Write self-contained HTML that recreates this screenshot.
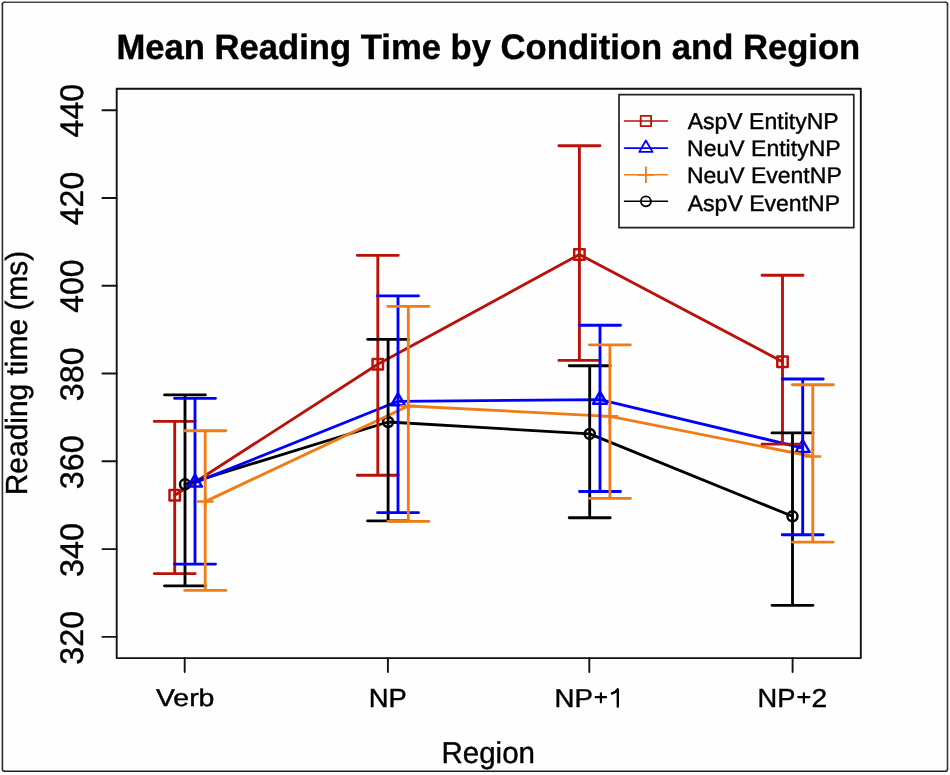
<!DOCTYPE html>
<html><head><meta charset="utf-8"><title>Mean Reading Time by Condition and Region</title>
<style>
html,body{margin:0;padding:0;background:#fff;}
body{width:950px;height:775px;overflow:hidden;}
svg{display:block;font-family:"Liberation Sans",sans-serif;will-change:transform;text-rendering:geometricPrecision;}
</style></head><body>
<svg width="950" height="775" viewBox="0 0 950 775">
<style>text{stroke:#000;stroke-width:0.4px;}</style>
<rect x="0" y="0" width="950" height="775" fill="#fefefe"/>
<g fill="none" stroke-width="1.6" stroke-linecap="round">
<path d="M4.4 2.3H945.4" stroke="#484848"/>
<path d="M2.4 4.3V769.2" stroke="#2e2e2e"/>
<path d="M947.5 4.3V769.2" stroke="#363636"/>
<path d="M4.4 771.2H945.5" stroke="#1e1e1e"/>
<path d="M2.4 4.3Q2.4 2.3 4.4 2.3M945.4 2.3Q947.5 2.3 947.5 4.3M947.5 769.2Q947.5 771.2 945.5 771.2M4.4 771.2Q2.4 771.2 2.4 769.2" stroke="#333"/>
</g>
<text x="488.37" y="59.40" text-anchor="middle" font-size="35.37" font-weight="bold" textLength="743.79" lengthAdjust="spacingAndGlyphs">Mean Reading Time by Condition and Region</text>
<path d="M174.7 495.2 L377.8 364.3 L579.4 254.5 L782.5 361.7" stroke="#b91209" stroke-width="2.85" stroke-linecap="round" stroke-linejoin="round" fill="none"/>
<rect x="169.5" y="490.0" width="10.4" height="10.4" fill="none" stroke="#b91209" stroke-width="2.5" stroke-linejoin="round"/>
<rect x="372.6" y="359.1" width="10.4" height="10.4" fill="none" stroke="#b91209" stroke-width="2.5" stroke-linejoin="round"/>
<rect x="574.2" y="249.3" width="10.4" height="10.4" fill="none" stroke="#b91209" stroke-width="2.5" stroke-linejoin="round"/>
<rect x="777.3" y="356.5" width="10.4" height="10.4" fill="none" stroke="#b91209" stroke-width="2.5" stroke-linejoin="round"/>
<path d="M185.0 484.3 L388.1 422.0 L589.7 433.9 L792.5 516.3" stroke="#000000" stroke-width="2.85" stroke-linecap="round" stroke-linejoin="round" fill="none"/>
<circle cx="185.0" cy="484.3" r="5.0" fill="none" stroke="#000000" stroke-width="2.5"/>
<circle cx="388.1" cy="422.0" r="5.0" fill="none" stroke="#000000" stroke-width="2.5"/>
<circle cx="589.7" cy="433.9" r="5.0" fill="none" stroke="#000000" stroke-width="2.5"/>
<circle cx="792.5" cy="516.3" r="5.0" fill="none" stroke="#000000" stroke-width="2.5"/>
<path d="M195.0 482.6 L398.0 401.3 L600.0 399.7 L802.7 448.0" stroke="#0000ff" stroke-width="2.85" stroke-linecap="round" stroke-linejoin="round" fill="none"/>
<polygon points="195.0,474.6 201.9,486.6 188.1,486.6" fill="none" stroke="#0000ff" stroke-width="2.5" stroke-linejoin="round"/>
<polygon points="398.0,393.3 404.9,405.3 391.1,405.3" fill="none" stroke="#0000ff" stroke-width="2.5" stroke-linejoin="round"/>
<polygon points="600.0,391.7 606.9,403.7 593.1,403.7" fill="none" stroke="#0000ff" stroke-width="2.5" stroke-linejoin="round"/>
<polygon points="802.7,440.0 809.6,452.0 795.8,452.0" fill="none" stroke="#0000ff" stroke-width="2.5" stroke-linejoin="round"/>
<path d="M205.2 501.6 L408.3 406.0 L609.9 416.3 L812.8 456.5" stroke="#ef7c16" stroke-width="2.85" stroke-linecap="round" stroke-linejoin="round" fill="none"/>
<path d="M196.9 501.6H213.5M205.2 493.3V509.9" stroke="#ef7c16" stroke-width="2.5" fill="none"/>
<path d="M400.0 406.0H416.6M408.3 397.7V414.3" stroke="#ef7c16" stroke-width="2.5" fill="none"/>
<path d="M601.6 416.3H618.2M609.9 408.0V424.6" stroke="#ef7c16" stroke-width="2.5" fill="none"/>
<path d="M804.5 456.5H821.1M812.8 448.2V464.8" stroke="#ef7c16" stroke-width="2.5" fill="none"/>
<path d="M174.7 421.4V573.6M154.2 421.4H195.2M154.2 573.6H195.2M377.8 255.3V475.2M357.3 255.3H398.3M357.3 475.2H398.3M579.4 145.7V360.4M558.9 145.7H599.9M558.9 360.4H599.9M782.5 275.2V444.1M762.0 275.2H803.0M762.0 444.1H803.0" stroke="#b91209" stroke-width="2.85" stroke-linecap="round" fill="none"/>
<path d="M185.0 394.8V585.8M164.5 394.8H205.5M164.5 585.8H205.5M388.1 339.4V520.9M367.6 339.4H408.6M367.6 520.9H408.6M589.7 365.7V517.7M569.2 365.7H610.2M569.2 517.7H610.2M792.5 432.9V605.3M772.0 432.9H813.0M772.0 605.3H813.0" stroke="#000000" stroke-width="2.85" stroke-linecap="round" fill="none"/>
<path d="M195.0 398.3V564.1M174.5 398.3H215.5M174.5 564.1H215.5M398.0 295.9V512.6M377.5 295.9H418.5M377.5 512.6H418.5M600.0 325.2V491.5M579.5 325.2H620.5M579.5 491.5H620.5M802.7 379.0V534.7M782.2 379.0H823.2M782.2 534.7H823.2" stroke="#0000ff" stroke-width="2.85" stroke-linecap="round" fill="none"/>
<path d="M205.2 430.7V590.4M184.7 430.7H225.7M184.7 590.4H225.7M408.3 306.4V521.4M387.8 306.4H428.8M387.8 521.4H428.8M609.9 344.8V498.4M589.4 344.8H630.4M589.4 498.4H630.4M812.8 384.7V542.1M792.3 384.7H833.3M792.3 542.1H833.3" stroke="#ef7c16" stroke-width="2.85" stroke-linecap="round" fill="none"/>
<rect x="116.7" y="88.8" width="744.1" height="569.3" fill="none" stroke="#111" stroke-width="1.9" stroke-linejoin="round"/>
<path d="M102.4 110.2H116.7" stroke="#111" stroke-width="1.9" stroke-linecap="round"/>
<text transform="translate(83.01 110.67) rotate(-90)" text-anchor="middle" font-size="32.67" textLength="53.62" lengthAdjust="spacingAndGlyphs">440</text>
<path d="M102.4 198.0H116.7" stroke="#111" stroke-width="1.9" stroke-linecap="round"/>
<text transform="translate(83.06 198.50) rotate(-90)" text-anchor="middle" font-size="32.67" textLength="53.38" lengthAdjust="spacingAndGlyphs">420</text>
<path d="M102.4 285.8H116.7" stroke="#111" stroke-width="1.9" stroke-linecap="round"/>
<text transform="translate(83.00 286.19) rotate(-90)" text-anchor="middle" font-size="32.67" textLength="53.26" lengthAdjust="spacingAndGlyphs">400</text>
<path d="M102.4 373.5H116.7" stroke="#111" stroke-width="1.9" stroke-linecap="round"/>
<text transform="translate(83.01 374.30) rotate(-90)" text-anchor="middle" font-size="32.64" textLength="53.81" lengthAdjust="spacingAndGlyphs">380</text>
<path d="M102.4 461.3H116.7" stroke="#111" stroke-width="1.9" stroke-linecap="round"/>
<text transform="translate(83.04 462.20) rotate(-90)" text-anchor="middle" font-size="32.64" textLength="54.12" lengthAdjust="spacingAndGlyphs">360</text>
<path d="M102.4 549.1H116.7" stroke="#111" stroke-width="1.9" stroke-linecap="round"/>
<text transform="translate(82.98 549.94) rotate(-90)" text-anchor="middle" font-size="32.63" textLength="53.95" lengthAdjust="spacingAndGlyphs">340</text>
<path d="M102.4 636.9H116.7" stroke="#111" stroke-width="1.9" stroke-linecap="round"/>
<text transform="translate(83.10 637.80) rotate(-90)" text-anchor="middle" font-size="32.67" textLength="53.69" lengthAdjust="spacingAndGlyphs">320</text>
<path d="M184.7 658.1V672" stroke="#111" stroke-width="1.9" stroke-linecap="round"/>
<text x="185.18" y="706.25" text-anchor="middle" font-size="24.33" textLength="58.43" lengthAdjust="spacingAndGlyphs">Verb</text>
<path d="M387.9 658.1V672" stroke="#111" stroke-width="1.9" stroke-linecap="round"/>
<text x="387.68" y="706.68" text-anchor="middle" font-size="26.13" textLength="38.03" lengthAdjust="spacingAndGlyphs">NP</text>
<path d="M589.3 658.1V672" stroke="#111" stroke-width="1.9" stroke-linecap="round"/>
<text x="573.69" y="706.77" text-anchor="middle" font-size="25.98" textLength="38.39" lengthAdjust="spacingAndGlyphs">NP</text>
<path d="M792.6 658.1V672" stroke="#111" stroke-width="1.9" stroke-linecap="round"/>
<text x="776.43" y="706.68" text-anchor="middle" font-size="26.09" textLength="37.90" lengthAdjust="spacingAndGlyphs">NP</text>
<path d="M617.8 689.3V706.6M617.6 689.3Q615.6 692.5 611.9 693.5" stroke="#000" stroke-width="2.35" stroke-linecap="round" fill="none"/>
<path d="M595.7 697.2H606.1M600.9 693.3V702.3M798.3 697.1H809.5M803.9 693.3V702.5" stroke="#000" stroke-width="2.2" stroke-linecap="round" fill="none"/>
<text x="811.52" y="706.78" text-anchor="start" font-size="25.89" textLength="15.67" lengthAdjust="spacingAndGlyphs">2</text>
<rect x="619.0" y="94.7" width="234.8" height="133.0" fill="none" stroke="#222" stroke-width="1.7" stroke-linejoin="round"/>
<path d="M624.5 121.0H667.5" stroke="#b91209" stroke-width="1.55" stroke-linecap="round"/>
<rect x="640.7" y="115.8" width="10.4" height="10.4" fill="none" stroke="#b91209" stroke-width="1.8" stroke-linejoin="round"/>
<text x="687.70" y="128.95" text-anchor="start" font-size="22.8" textLength="151.03" lengthAdjust="spacingAndGlyphs">AspV EntityNP</text>
<path d="M624.5 148.1H667.5" stroke="#0000ff" stroke-width="1.55" stroke-linecap="round"/>
<polygon points="645.9,140.5 652.5,151.9 639.3,151.9" fill="none" stroke="#0000ff" stroke-width="1.8" stroke-linejoin="round"/>
<text x="687.09" y="156.36" text-anchor="start" font-size="22.7" textLength="153.56" lengthAdjust="spacingAndGlyphs">NeuV EntityNP</text>
<path d="M624.5 174.8H667.5" stroke="#ef7c16" stroke-width="1.55" stroke-linecap="round"/>
<path d="M637.6 174.8H654.2M645.9 166.5V183.1" stroke="#ef7c16" stroke-width="1.8" fill="none"/>
<text x="686.92" y="183.35" text-anchor="start" font-size="22.72" textLength="154.85" lengthAdjust="spacingAndGlyphs">NeuV EventNP</text>
<path d="M624.5 201.3H667.5" stroke="#000000" stroke-width="1.55" stroke-linecap="round"/>
<circle cx="645.9" cy="201.3" r="5.0" fill="none" stroke="#000000" stroke-width="1.8"/>
<text x="687.71" y="210.57" text-anchor="start" font-size="22.69" textLength="152.39" lengthAdjust="spacingAndGlyphs">AspV EventNP</text>
<text transform="translate(27.32 373.01) rotate(-90)" text-anchor="middle" font-size="30.54" textLength="244.50" lengthAdjust="spacingAndGlyphs">Reading time (ms)</text>
<text x="488.24" y="762.64" text-anchor="middle" font-size="30.09" textLength="93.58" lengthAdjust="spacingAndGlyphs">Region</text>
</svg>
</body></html>
